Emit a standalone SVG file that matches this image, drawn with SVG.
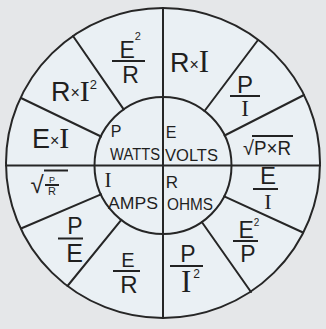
<svg xmlns="http://www.w3.org/2000/svg" width="326" height="329" viewBox="0 0 326 329">
<style>
.t{font-family:"Liberation Sans",Arial,sans-serif;fill:#1f1f1f;text-anchor:middle}
.st{font-family:"Liberation Sans",Arial,sans-serif;fill:#1f1f1f;text-anchor:start}
.s{font-family:"Liberation Serif","Times New Roman",serif}
.ln{stroke:#262626;stroke-width:2;fill:none;stroke-linecap:round}
.bar{stroke:#222;stroke-width:2}
</style>
<rect width="326" height="329" fill="#e5e7e9"/>
<ellipse cx="163" cy="163" rx="157" ry="155" fill="#eaf0f4"/>
<g id="connectors" class="ln">
<ellipse cx="163" cy="163" rx="157" ry="155"/>
<circle cx="163" cy="165.5" r="68.5"/>
<line x1="163" y1="8" x2="163" y2="318"/>
<line x1="6" y1="165.5" x2="320" y2="165.5"/>
<line x1="123.7" y1="109.4" x2="73" y2="36"/>
<line x1="101" y1="136.5" x2="21" y2="98"/>
<line x1="204.5" y1="111" x2="258" y2="40"/>
<line x1="224.6" y1="135.5" x2="304" y2="95"/>
<line x1="101" y1="194.4" x2="21" y2="228.5"/>
<line x1="121.3" y1="219.8" x2="67.5" y2="286"/>
<line x1="224.2" y1="196.3" x2="303" y2="232.5"/>
<line x1="201.8" y1="222" x2="251" y2="292"/>
</g>
<g id="watts"><text class="t" x="116" y="137" font-size="16">P</text><text class="t" x="135" y="160" font-size="16" textLength="50" lengthAdjust="spacingAndGlyphs">WATTS</text></g>
<g id="volts"><text class="t" x="171" y="138" font-size="16">E</text><text class="t" x="191.5" y="161" font-size="16" textLength="53" lengthAdjust="spacingAndGlyphs">VOLTS</text></g>
<g id="amps"><text class="t s" x="108" y="187" font-size="21">I</text><text class="t" x="133" y="209" font-size="16" textLength="50" lengthAdjust="spacingAndGlyphs">AMPS</text></g>
<g id="ohms"><text class="t" x="172" y="188" font-size="17">R</text><text class="t" x="190" y="210" font-size="16" textLength="46" lengthAdjust="spacingAndGlyphs">OHMS</text></g>
<g id="e2r"><text class="st" x="119.5" y="58" font-size="23">E<tspan dy="-18" font-size="11">2</tspan></text><line class="bar" x1="112" y1="61" x2="145" y2="61"/><text class="t" x="130.5" y="83" font-size="23">R</text></g>
<g id="rxi2"><text class="st" x="51" y="101" font-size="27">R<tspan dy="-3" font-size="16">×</tspan><tspan class="s" dy="3" font-size="30">I</tspan><tspan dy="-12" font-size="13">2</tspan></text></g>
<g id="exi"><text class="st" x="32" y="148" font-size="27">E<tspan dy="-2" font-size="16">×</tspan><tspan class="s" dy="2" font-size="30">I</tspan></text></g>
<g id="rxi"><text class="st" x="170" y="72" font-size="27">R<tspan dy="-2" font-size="16">×</tspan><tspan class="s" dy="2" font-size="31">I</tspan></text></g>
<g id="pi"><text class="t" x="245" y="93" font-size="24">P</text><line class="bar" x1="230" y1="96" x2="260" y2="96"/><text class="t s" x="245" y="116" font-size="23">I</text></g>
<g id="sqrtpr"><text class="st" x="243" y="155" font-size="20">√<tspan textLength="37" lengthAdjust="spacingAndGlyphs">P×R</tspan></text><line class="bar" x1="252" y1="136" x2="293" y2="136"/></g>
<g id="ei"><text class="t" x="268" y="184" font-size="24">E</text><line class="bar" x1="253" y1="189" x2="278" y2="189"/><text class="t s" x="268" y="209" font-size="22">I</text></g>
<g id="e2p"><text class="st" x="238.5" y="238" font-size="23">E<tspan dy="-12" font-size="10">2</tspan></text><line class="bar" x1="233" y1="241" x2="258" y2="241"/><text class="t" x="248" y="262" font-size="23">P</text></g>
<g id="pi2"><text class="t" x="188" y="262" font-size="23">P</text><line class="bar" x1="170" y1="266" x2="203" y2="266"/><text class="st s" x="181" y="292" font-size="31">I<tspan dx="2" dy="-14" font-size="12" font-family="Liberation Sans, Arial, sans-serif">2</tspan></text></g>
<g id="er"><text class="t" x="128" y="266.5" font-size="20">E</text><line class="bar" x1="113" y1="271" x2="140" y2="271"/><text class="t" x="129" y="293" font-size="24">R</text></g>
<g id="pe"><text class="t" x="75" y="234" font-size="23">P</text><line class="bar" x1="58" y1="238.5" x2="83" y2="238.5"/><text class="t" x="74.5" y="262" font-size="25">E</text></g>
<g id="sqrtp_r"><text class="t" x="37" y="193" font-size="24">√</text><line class="bar" x1="44" y1="170.5" x2="68" y2="170.5"/><text class="t" x="52" y="183" font-size="9">P</text><line class="bar" x1="45" y1="185" x2="59" y2="185" stroke-width="1.5"/><text class="t" x="52" y="195" font-size="11">R</text></g>
</svg>
